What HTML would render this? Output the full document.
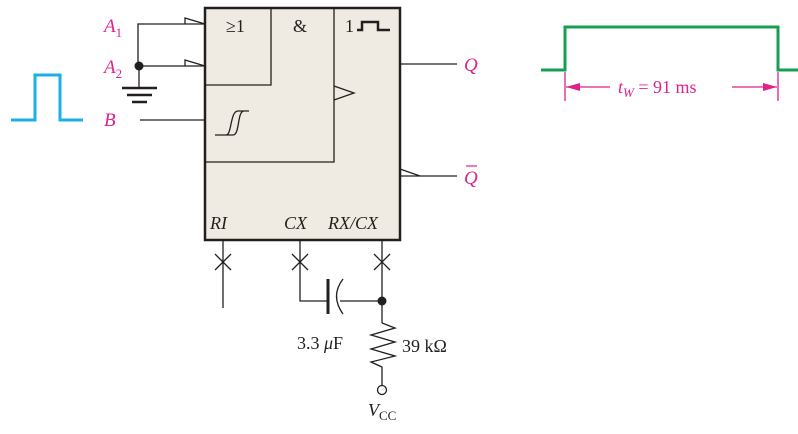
<!DOCTYPE html>
<html><head><meta charset="utf-8"><style>
html,body{margin:0;padding:0;background:#fff}
svg text{font-family:"Liberation Serif",serif}
</style></head><body>
<svg width="798" height="429" viewBox="0 0 798 429" xmlns="http://www.w3.org/2000/svg">
<rect x="205" y="8" width="195" height="232" fill="#efebe2" stroke="#231f20" stroke-width="2.5"/>
<g stroke="#231f20" stroke-width="1.3" fill="none">
<polyline points="205,85 271,85 271,8"/>
<polyline points="205,162 334,162 334,8"/>
<polyline points="334,86 354,93 334,100"/>
<polyline points="205,24 138,24 138,66 205,66"/>
<polyline points="185,24 185,18 205,24"/>
<polyline points="185,66 185,60 205,66"/>
<line x1="139" y1="66" x2="139" y2="88"/>
<line x1="140" y1="120" x2="205" y2="120"/>
<path d="M215,135 H226 C232,135 230,111 238,111 H249 M218,135 H233 C240,135 237,111 244,111"/>
<line x1="400" y1="64" x2="457" y2="64"/>
<line x1="400" y1="176" x2="457" y2="176"/>
<polyline points="400,169 420,176"/>
<line x1="223" y1="240" x2="223" y2="308"/>
<line x1="215" y1="254" x2="231" y2="270"/><line x1="231" y1="254" x2="215" y2="270"/>
<polyline points="300,240 300,301 328,301"/>
<line x1="292" y1="254" x2="308" y2="270"/><line x1="308" y1="254" x2="292" y2="270"/>
<line x1="382" y1="240" x2="382" y2="323"/>
<line x1="374" y1="254" x2="390" y2="270"/><line x1="390" y1="254" x2="374" y2="270"/>
<line x1="340" y1="301" x2="382" y2="301"/>
<path d="M343,279 Q330,296 343,314"/>
<polyline points="382,323 395,328 371,335 395,342 371,349 395,356 371,362 382,367 382,386"/>
</g>
<g stroke="#231f20" stroke-width="2.5">
<line x1="122" y1="88" x2="157" y2="88"/>
<line x1="127" y1="95" x2="152" y2="95"/>
<line x1="132" y1="102" x2="147" y2="102"/>
<line x1="328" y1="279" x2="328" y2="314" stroke-width="3"/>
</g>
<circle cx="139" cy="66" r="4.5" fill="#231f20"/>
<circle cx="382" cy="301" r="4.5" fill="#231f20"/>
<circle cx="382" cy="390" r="4.5" fill="#fff" stroke="#231f20" stroke-width="1.3"/>
<g fill="#231f20" font-size="18">
<text x="226" y="32">≥1</text>
<text x="293" y="32">&amp;</text>
<text x="345" y="32">1</text>
<text x="210" y="229" font-style="italic">RI</text>
<text x="284" y="229" font-style="italic">CX</text>
<text x="328" y="229" font-style="italic">RX/CX</text>
<text x="297" y="349">3.3 <tspan font-style="italic">μ</tspan>F</text>
<text x="402" y="352">39 kΩ</text>
<text x="368" y="416" font-style="italic">V<tspan font-style="normal" font-size="13" dy="4">CC</tspan></text>
</g>
<polyline points="357,30 362,30 362,22 378,22 378,30 390,30" fill="none" stroke="#231f20" stroke-width="2.5"/>
<g fill="#e0218a" font-size="19" font-style="italic">
<text x="104" y="32">A<tspan font-size="13" font-style="normal" dy="5">1</tspan></text>
<text x="104" y="73">A<tspan font-size="13" font-style="normal" dy="5">2</tspan></text>
<text x="104" y="126">B</text>
<text x="464" y="71">Q</text>
<text x="464" y="184">Q</text>
<line x1="466" y1="166" x2="477" y2="166" stroke="#e0218a" stroke-width="1.2"/>
</g>
<polyline points="11,120 35,120 35,75 60,75 60,120 83,120" fill="none" stroke="#1ab0e6" stroke-width="3"/>
<polyline points="541,70 565,70 565,27 778,27 778,70 798,70" fill="none" stroke="#14a050" stroke-width="3"/>
<g stroke="#e0218a" stroke-width="1.3" fill="#e0218a">
<line x1="565" y1="72" x2="565" y2="101"/>
<line x1="778" y1="72" x2="778" y2="101"/>
<line x1="566" y1="87" x2="610" y2="87"/>
<line x1="732" y1="87" x2="777" y2="87"/>
<polygon points="566,87 580,83 580,91" stroke="none"/>
<polygon points="777,87 763,83 763,91" stroke="none"/>
</g>
<text x="618" y="93" fill="#e0218a" font-size="18"><tspan font-style="italic">t</tspan><tspan font-style="italic" font-size="13" dy="4">W</tspan><tspan dy="-4"> = 91 ms</tspan></text>
</svg>
</body></html>
